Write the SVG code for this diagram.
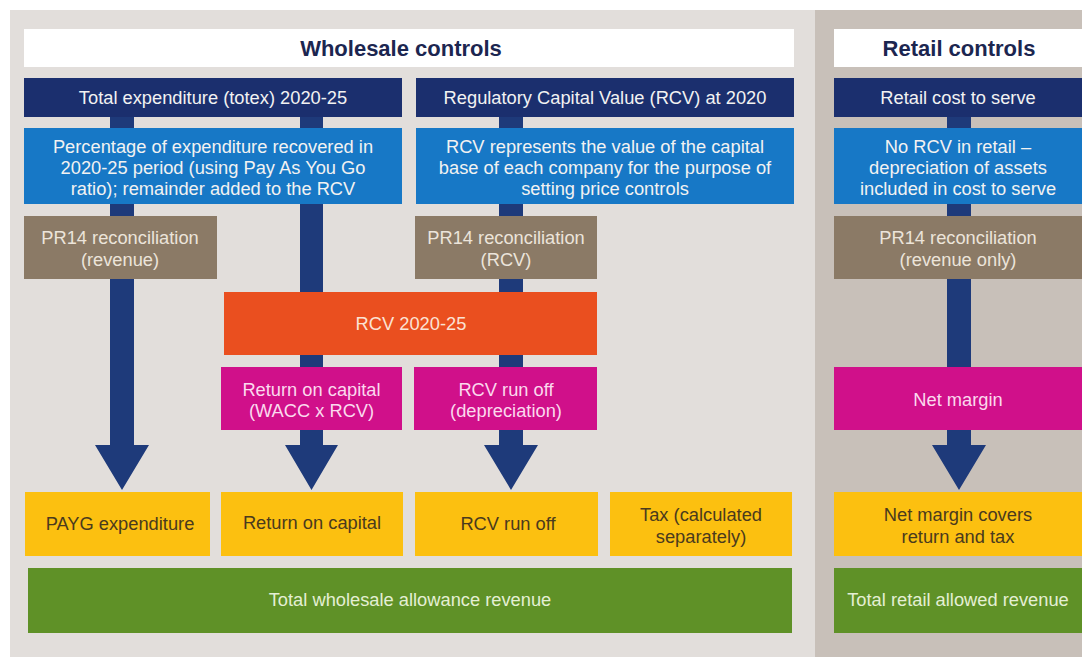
<svg xmlns="http://www.w3.org/2000/svg" width="1082" height="657" viewBox="0 0 1082 657">
<style>
text{font-family:"Liberation Sans",Arial,sans-serif;font-size:18.3px;text-anchor:middle}
.title{font-size:22px;font-weight:bold;fill:#1c2650}
.navy{fill:#1b2f6e}.blue{fill:#1778c6}.brown{fill:#8b7a66}.orange{fill:#ea4f1f}
.mag{fill:#d0108a}.yel{fill:#fcc010}.green{fill:#5f9127}
.tw{fill:#f2f2f2}.tb{fill:#ece4da}.to{fill:#fbe2d4}.tm{fill:#fbd9ee}.ty{fill:#4a3a1e}.tg{fill:#e4efd4}
.arrow{fill:#1e3a7a}
</style>
<rect x="0" y="0" width="1082" height="657" fill="#ffffff"/>
<rect id="wholesale-panel" x="10" y="10" width="805" height="647" fill="#e2dedb"/>
<rect id="retail-panel" x="815" y="10" width="267" height="647" fill="#c8c0b9"/>

<g id="connectors">
<polygon class="arrow" points="110,117 134,117 134,445 149,445 122,490 95,445 110,445"/>
<polygon class="arrow" points="300,117 323,117 323,445 338,445 311.5,490 285,445 300,445"/>
<polygon class="arrow" points="499,117 523,117 523,445 538,445 511,490 484,445 499,445"/>
<polygon class="arrow" points="947,117 971,117 971,445 986,445 959,490 932,445 947,445"/>
</g>

<g id="wholesale-title"><rect x="24" y="29" width="770" height="38" fill="#ffffff"/><text class="title" x="401" y="56">Wholesale controls</text></g>
<g id="retail-title"><rect x="834" y="29" width="248" height="38" fill="#ffffff"/><text class="title" x="959" y="56">Retail controls</text></g>

<g id="totex"><rect class="navy" x="24" y="78" width="378" height="39"/><text class="tw" x="213" y="104">Total expenditure (totex) 2020-25</text></g>
<g id="rcv2020"><rect class="navy" x="416" y="78" width="378" height="39"/><text class="tw" x="605" y="104">Regulatory Capital Value (RCV) at 2020</text></g>
<g id="retail-cost"><rect class="navy" x="834" y="78" width="248" height="39"/><text class="tw" x="958" y="104">Retail cost to serve</text></g>

<g id="payg-desc"><rect class="blue" x="24" y="128" width="378" height="76"/>
<text class="tw" x="213" y="153">Percentage of expenditure recovered in</text>
<text class="tw" x="213" y="174">2020-25 period (using Pay As You Go</text>
<text class="tw" x="213" y="195">ratio); remainder added to the RCV</text></g>
<g id="rcv-desc"><rect class="blue" x="416" y="128" width="378" height="76"/>
<text class="tw" x="605" y="153">RCV represents the value of the capital</text>
<text class="tw" x="605" y="174">base of each company for the purpose of</text>
<text class="tw" x="605" y="195">setting price controls</text></g>
<g id="retail-desc"><rect class="blue" x="834" y="128" width="248" height="76"/>
<text class="tw" x="958" y="153">No RCV in retail –</text>
<text class="tw" x="958" y="174">depreciation of assets</text>
<text class="tw" x="958" y="195">included in cost to serve</text></g>

<g id="pr14-revenue"><rect class="brown" x="24" y="216" width="193" height="63"/>
<text class="tb" x="120" y="244">PR14 reconciliation</text><text class="tb" x="120" y="266">(revenue)</text></g>
<g id="pr14-rcv"><rect class="brown" x="415" y="216" width="182" height="63"/>
<text class="tb" x="506" y="244">PR14 reconciliation</text><text class="tb" x="506" y="266">(RCV)</text></g>
<g id="pr14-retail"><rect class="brown" x="834" y="216" width="248" height="63"/>
<text class="tb" x="958" y="244">PR14 reconciliation</text><text class="tb" x="958" y="266">(revenue only)</text></g>

<g id="rcv-2020-25"><rect class="orange" x="224" y="292" width="373" height="63"/>
<text class="to" x="411" y="330">RCV 2020-25</text></g>

<g id="return-wacc"><rect class="mag" x="221" y="367" width="181" height="63"/>
<text class="tm" x="311.5" y="396">Return on capital</text><text class="tm" x="311.5" y="417">(WACC x RCV)</text></g>
<g id="rcv-runoff-dep"><rect class="mag" x="414" y="367" width="183" height="63"/>
<text class="tm" x="506" y="396">RCV run off</text><text class="tm" x="506" y="417">(depreciation)</text></g>
<g id="net-margin"><rect class="mag" x="834" y="367" width="248" height="63"/>
<text class="tm" x="958" y="406">Net margin</text></g>

<g id="payg-exp"><rect class="yel" x="25" y="492" width="185" height="64"/>
<text class="ty" x="120" y="530">PAYG expenditure</text></g>
<g id="return-capital"><rect class="yel" x="221" y="492" width="182" height="64"/>
<text class="ty" x="312" y="529">Return on capital</text></g>
<g id="rcv-runoff"><rect class="yel" x="415" y="492" width="183" height="64"/>
<text class="ty" x="508" y="530">RCV run off</text></g>
<g id="tax"><rect class="yel" x="610" y="492" width="182" height="64"/>
<text class="ty" x="701" y="521">Tax (calculated</text><text class="ty" x="701" y="543">separately)</text></g>
<g id="net-margin-covers"><rect class="yel" x="834" y="492" width="248" height="64"/>
<text class="ty" x="958" y="521">Net margin covers</text><text class="ty" x="958" y="543">return and tax</text></g>

<g id="total-wholesale"><rect class="green" x="28" y="568" width="764" height="65"/>
<text class="tg" x="410" y="606">Total wholesale allowance revenue</text></g>
<g id="total-retail"><rect class="green" x="834" y="568" width="248" height="65"/>
<text class="tg" x="958" y="606">Total retail allowed revenue</text></g>
</svg>
